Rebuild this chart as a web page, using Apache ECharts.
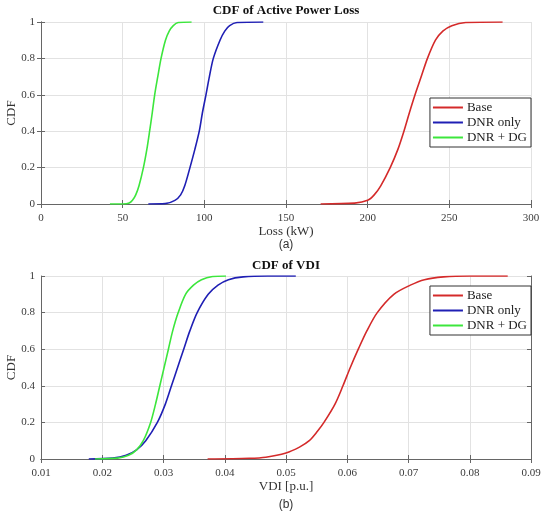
<!DOCTYPE html>
<html style="height: 100%">
<head>
    <meta charset="utf-8">
    <script src="https://cdn.jsdelivr.net/npm/echarts@6/dist/echarts.min.js"></script>
</head>
<body style="height:100%;margin:0;background:#fff">
    <div id="main" style="width:550px;height:516px;"></div>
    <script type="text/javascript">

        // (a) active power loss, kW vs CDF
        var lossBaseX = [171.2, 192, 200, 204, 208, 213.8, 218.5, 222.2, 225.5, 229, 232.8, 236.6, 241.5, 246, 251.5, 260, 282.6];
        var lossBaseY = [0, 0.005, 0.02, 0.05, 0.1, 0.2, 0.3, 0.4, 0.5, 0.6, 0.7, 0.8, 0.9, 0.95, 0.98, 0.997, 1];
        var lossDnrX = [65.7, 76, 82, 85.5, 88, 91.2, 94.2, 96.9, 98.8, 101, 103.1, 105.5, 109.6, 112.5, 115.5, 120, 136.1];
        var lossDnrY = [0, 0.002, 0.02, 0.05, 0.1, 0.2, 0.3, 0.4, 0.5, 0.6, 0.7, 0.8, 0.9, 0.95, 0.98, 0.997, 1];
        var lossDgX = [42.2, 50, 54, 56, 58, 60, 62.7, 64.8, 66.5, 68.1, 69.6, 71.5, 73.5, 76.2, 78.5, 81, 84, 92.2];
        var lossDgY = [0, 0, 0.005, 0.02, 0.05, 0.1, 0.2, 0.3, 0.4, 0.5, 0.6, 0.7, 0.8, 0.9, 0.95, 0.98, 0.997, 1];

        // (b) VDI, p.u. vs CDF
        var vdiBaseX = [0.0372, 0.044, 0.0467, 0.05, 0.0522, 0.0538, 0.0551, 0.0562, 0.058, 0.0593, 0.0605, 0.0618, 0.0632, 0.0649, 0.0676, 0.0703, 0.0726, 0.0757, 0.08, 0.0862];
        var vdiBaseY = [0, 0.004, 0.01, 0.033, 0.065, 0.1, 0.15, 0.2, 0.3, 0.4, 0.5, 0.6, 0.7, 0.8, 0.9, 0.95, 0.98, 0.995, 1, 1];
        var vdiDnrX = [0.0178, 0.0217, 0.0239, 0.0256, 0.0271, 0.029, 0.0303, 0.0313, 0.0323, 0.0333, 0.0343, 0.0355, 0.0373, 0.0389, 0.0406, 0.043, 0.047, 0.0516];
        var vdiDnrY = [0, 0.005, 0.02, 0.05, 0.1, 0.2, 0.3, 0.4, 0.5, 0.6, 0.7, 0.8, 0.9, 0.95, 0.98, 0.995, 1, 1];
        var vdiDgX = [0.0188, 0.0225, 0.0243, 0.0256, 0.0267, 0.0279, 0.0287, 0.0294, 0.0301, 0.0308, 0.0315, 0.0324, 0.0336, 0.0349, 0.0362, 0.038, 0.0402];
        var vdiDgY = [0, 0.005, 0.02, 0.05, 0.1, 0.2, 0.3, 0.4, 0.5, 0.6, 0.7, 0.8, 0.9, 0.95, 0.98, 0.997, 1];

        var seriesNames = ['Base', 'DNR only', 'DNR + DG'];
        var seriesColors = ['#d42a2a', '#1f1fb4', '#3ce63c'];

        var lossTicks = { min: 0, max: 300, interval: 50 };
        var vdiTicks = { min: 0.01, max: 0.09, interval: 0.01 };

        var serif = '"Liberation Serif", "Times New Roman", serif';

        function pairs(xs, ys) {
            return xs.map(function (x, i) { return [x, ys[i]]; });
        }

        var chart = echarts.init(document.getElementById('main'));

        function xAx(grid, t, name, top, fmt) {
            return {
                type: 'value', gridIndex: grid, min: t.min, max: t.max, interval: t.interval,
                position: top ? 'top' : 'bottom',
                name: top ? '' : name, nameLocation: 'middle', nameGap: 21, nameMoveOverlap: false,
                nameTextStyle: { fontFamily: serif, fontSize: 13, color: '#333' },
                axisLine: { show: true, lineStyle: { color: '#666', width: 1 } },
                axisTick: { show: true, inside: true, length: 4, lineStyle: { color: '#666' } },
                axisLabel: { show: !top, margin: 9, fontFamily: serif, fontSize: 11, color: '#3a3a3a', formatter: fmt },
                splitLine: { show: !top, lineStyle: { color: '#e2e2e2' } }
            };
        }
        function yAx(grid, right) {
            return {
                type: 'value', gridIndex: grid, min: 0, max: 1, interval: 0.2,
                position: right ? 'right' : 'left',
                name: right ? '' : 'CDF', nameLocation: 'middle', nameGap: 23, nameMoveOverlap: false,
                nameTextStyle: { fontFamily: serif, fontSize: 13, color: '#333' },
                axisLine: { show: true, lineStyle: { color: '#666', width: 1 } },
                axisTick: { show: true, inside: true, length: 4, lineStyle: { color: '#666' } },
                axisLabel: { show: !right, margin: 6, fontFamily: serif, fontSize: 11, color: '#3a3a3a' },
                splitLine: { show: !right, lineStyle: { color: '#e2e2e2' } }
            };
        }
        function legendAt(top) {
            return {
                data: seriesNames, orient: 'vertical', right: 19, top: top,
                backgroundColor: '#fff', borderColor: '#333', borderWidth: 1,
                padding: [3, 4, 3, 3], itemGap: 2, itemWidth: 30, itemHeight: 2,
                icon: 'rect',
                textStyle: { fontFamily: serif, fontSize: 13, color: '#222', padding: [0, 0, 0, -1] }
            };
        }
        function line(name, idx, grid, data) {
            return {
                name: name, type: 'line', xAxisIndex: grid, yAxisIndex: grid,
                data: data, showSymbol: false, symbol: 'none',
                smooth: 0.3,
                lineStyle: { color: seriesColors[idx], width: 1.6 },
                itemStyle: { color: seriesColors[idx] }
            };
        }
        var vdiFmt = function (v) { return v.toFixed(2); };

        var option = {
            animation: false,
            grid: [
                { left: 41, top: 22, width: 490, height: 182, outerBoundsMode: 'none', containLabel: false },
                { left: 41, top: 276, width: 490, height: 183, outerBoundsMode: 'none', containLabel: false }
            ],
            xAxis: [
                xAx(0, lossTicks, 'Loss (kW)', false),
                xAx(1, vdiTicks, 'VDI [p.u.]', false, vdiFmt),
                xAx(0, lossTicks, '', true),
                xAx(1, vdiTicks, '', true)
            ],
            yAxis: [yAx(0, false), yAx(1, false), yAx(0, true), yAx(1, true)],
            legend: [legendAt(98), legendAt(286)],
            graphic: [
                { type: 'text', x: 286, y: 11, style: { text: 'CDF of Active Power Loss', font: 'bold 13px ' + serif, fill: '#111', textAlign: 'center', textVerticalAlign: 'middle' } },
                { type: 'text', x: 286, y: 266, style: { text: 'CDF of VDI', font: 'bold 13px ' + serif, fill: '#111', textAlign: 'center', textVerticalAlign: 'middle' } },
                { type: 'text', x: 286, y: 245, style: { text: '(a)', font: '12px "Liberation Sans", Arial, sans-serif', fill: '#333', textAlign: 'center', textVerticalAlign: 'middle' } },
                { type: 'text', x: 286, y: 505, style: { text: '(b)', font: '12px "Liberation Sans", Arial, sans-serif', fill: '#333', textAlign: 'center', textVerticalAlign: 'middle' } }
            ],
            series: [
                line('Base', 0, 0, pairs(lossBaseX, lossBaseY)),
                line('DNR only', 1, 0, pairs(lossDnrX, lossDnrY)),
                line('DNR + DG', 2, 0, pairs(lossDgX, lossDgY)),
                line('Base', 0, 1, pairs(vdiBaseX, vdiBaseY)),
                line('DNR only', 1, 1, pairs(vdiDnrX, vdiDnrY)),
                line('DNR + DG', 2, 1, pairs(vdiDgX, vdiDgY))
            ]
        };
        chart.setOption(option);
    </script>
</body>
</html>
